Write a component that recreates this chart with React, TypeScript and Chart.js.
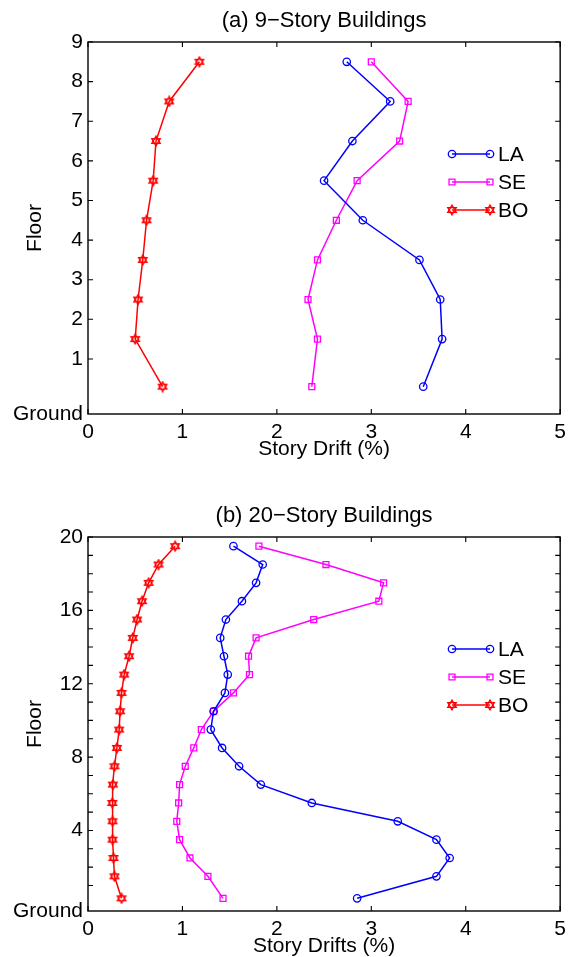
import React, { useEffect, useRef } from 'react';
import { Chart, registerables } from 'chart.js';
import { drawPoint } from 'chart.js/helpers';
Chart.register(...registerables);

const FONT_FAMILY = '"Liberation Sans", Arial, Helvetica, sans-serif';
const FONT_SIZE = 21;
const TITLE_SIZE = 22;

// ---------- data: (a) 9-story ----------
const floors9 = [0.3, 1.5, 2.5, 3.5, 4.5, 5.5, 6.5, 7.5, 8.5];
const la9 = [3.55, 3.75, 3.73, 3.51, 2.91, 2.5, 2.8, 3.2, 2.74];
const se9 = [2.37, 2.43, 2.33, 2.43, 2.63, 2.85, 3.3, 3.39, 3.0];
const bo9 = [0.79, 0.5, 0.53, 0.58, 0.62, 0.69, 0.72, 0.86, 1.18];
const yLabelTicks9 = [1, 2, 3, 4, 5, 6, 7, 8, 9];
const yMinorTicks9 = [1, 2, 3, 4, 5, 6, 7, 8, 9];

// ---------- data: (b) 20-story ----------
const floors20 = [0.3, 1.5, 2.5, 3.5, 4.5, 5.5, 6.5, 7.5, 8.5, 9.5, 10.5, 11.5, 12.5, 13.5, 14.5, 15.5, 16.5, 17.5, 18.5, 19.5];
const la20 = [2.85, 3.69, 3.83, 3.69, 3.28, 2.37, 1.83, 1.6, 1.42, 1.3, 1.33, 1.45, 1.48, 1.44, 1.4, 1.46, 1.63, 1.78, 1.85, 1.54];
const se20 = [1.43, 1.27, 1.08, 0.97, 0.94, 0.96, 0.97, 1.03, 1.12, 1.2, 1.33, 1.54, 1.71, 1.7, 1.78, 2.39, 3.08, 3.13, 2.52, 1.81];
const bo20 = [0.355, 0.28, 0.27, 0.26, 0.26, 0.257, 0.264, 0.28, 0.306, 0.33, 0.34, 0.355, 0.383, 0.435, 0.474, 0.52, 0.572, 0.642, 0.747, 0.923];
const yLabelTicks20 = [4, 8, 12, 16, 20];
const yMinorTicks20 = [1, 2, 3, 4, 5, 6, 7, 8, 9, 10, 11, 12, 13, 14, 15, 16, 17, 18, 19, 20];

const xTicks = [0, 1, 2, 3, 4, 5];
const groundValue = -0.39;
const groundLabel = 'Ground';
const seriesNames = ['LA', 'SE', 'BO'];
const seriesColors = ['#0000ff', '#ff00ff', '#ff0000'];

function makeHexagram(color: string): HTMLCanvasElement {
  const c = document.createElement('canvas');
  const s = 12;
  c.width = s;
  c.height = s;
  const ctx = c.getContext('2d')!;
  const r = 4.9;
  const cx = s / 2;
  const cy = s / 2;
  ctx.strokeStyle = color;
  ctx.fillStyle = color;
  ctx.lineWidth = 1.3;
  for (const off of [-Math.PI / 2, Math.PI / 2]) {
    ctx.beginPath();
    for (let i = 0; i < 3; i++) {
      const a = off + (i * 2 * Math.PI) / 3;
      const px = cx + r * Math.cos(a);
      const py = cy + r * Math.sin(a);
      if (i === 0) ctx.moveTo(px, py);
      else ctx.lineTo(px, py);
    }
    ctx.closePath();
    ctx.stroke();
  }
  return c;
}

type PanelSpec = {
  title: string;
  xTitle: string;
  floors: number[];
  la: number[];
  se: number[];
  bo: number[];
  yMax: number;
  yLabelTicks: number[];
  yMinorTicks: number[];
  canvasHeight: number;
  padTop: number;
  xAxisHeight: number;
};

const framePlugin = {
  id: 'matlabFrame',
  afterDraw(chart: any, _args: any, opts: any) {
    const { ctx, chartArea } = chart;
    const { left, right, top, bottom } = chartArea;
    const xs = chart.scales.x;
    const ys = chart.scales.y;
    const font = `${FONT_SIZE}px ${FONT_FAMILY}`;
    ctx.save();
    // box
    ctx.strokeStyle = '#000';
    ctx.lineWidth = 1.4;
    ctx.strokeRect(left, top, right - left, bottom - top);
    // inward ticks
    const tl = 5;
    ctx.lineWidth = 1.1;
    ctx.beginPath();
    for (const v of xTicks) {
      const px = xs.getPixelForValue(v);
      ctx.moveTo(px, bottom);
      ctx.lineTo(px, bottom - tl);
      ctx.moveTo(px, top);
      ctx.lineTo(px, top + tl);
    }
    for (const v of opts.minorTicks as number[]) {
      const py = ys.getPixelForValue(v);
      ctx.moveTo(left, py);
      ctx.lineTo(left + tl, py);
      ctx.moveTo(right, py);
      ctx.lineTo(right - tl, py);
    }
    ctx.stroke();

    // title
    ctx.fillStyle = '#000';
    ctx.font = `${TITLE_SIZE}px ${FONT_FAMILY}`;
    ctx.textAlign = 'center';
    ctx.textBaseline = 'alphabetic';
    const cx = (left + right) / 2;
    ctx.fillText(opts.title, cx, top - 15);
    // x title
    ctx.font = font;
    ctx.fillText(opts.xTitle, cx, bottom + 41);
    // y title
    ctx.save();
    ctx.translate(41, (top + bottom) / 2);
    ctx.rotate(-Math.PI / 2);
    ctx.fillText('Floor', 0, 0);
    ctx.restore();

    // legend
    const lx1 = 452;
    const lx2 = 490;
    const rows = [top + 112, top + 140, top + 168];
    chart.data.datasets.forEach((ds: any, i: number) => {
      const y = rows[i];
      ctx.strokeStyle = ds.borderColor;
      ctx.lineWidth = ds.borderWidth;
      ctx.beginPath();
      ctx.moveTo(lx1, y);
      ctx.lineTo(lx2, y);
      ctx.stroke();
      for (const x of [lx1, lx2]) {
        ctx.strokeStyle = ds.pointBorderColor;
        ctx.fillStyle = ds.pointBackgroundColor;
        ctx.lineWidth = ds.pointBorderWidth;
        drawPoint(ctx, { pointStyle: ds.pointStyle, radius: ds.pointRadius, borderWidth: ds.pointBorderWidth, rotation: 0 } as any, x, y);
      }
      ctx.fillStyle = '#000';
      ctx.font = font;
      ctx.textAlign = 'left';
      ctx.textBaseline = 'middle';
      ctx.fillText(ds.label, 498, y + 1);
    });
    ctx.restore();
  },
};

function Panel({ spec }: { spec: PanelSpec }) {
  const ref = useRef<HTMLCanvasElement | null>(null);
  useEffect(() => {
    if (!ref.current) return;
    const hex = makeHexagram(seriesColors[2]);
    const mk = (vals: number[]) => vals.map((v, i) => ({ x: v, y: spec.floors[i] }));
    const series = [spec.la, spec.se, spec.bo];
    const styles: any[] = ['circle', 'rect', hex];
    const radii = [3.7, 4.2, 5];
    const datasets = series.map((vals, i) => ({
      label: seriesNames[i],
      data: mk(vals),
      showLine: true,
      borderColor: seriesColors[i],
      backgroundColor: seriesColors[i],
      borderWidth: 1.5,
      pointStyle: styles[i],
      pointRadius: radii[i],
      pointBorderWidth: 1.3,
      pointBorderColor: seriesColors[i],
      pointBackgroundColor: 'rgba(0,0,0,0)',
      tension: 0,
    }));
    const tickFont = { family: FONT_FAMILY, size: FONT_SIZE };
    const chart = new Chart(ref.current, {
      type: 'scatter',
      data: { datasets },
      options: {
        animation: false,
        responsive: false,
        events: [],
        layout: { padding: { top: spec.padTop, right: 11, bottom: 0, left: 0 } },
        plugins: {
          legend: { display: false },
          tooltip: { enabled: false },
          title: { display: false },
          matlabFrame: { title: spec.title, xTitle: spec.xTitle, minorTicks: spec.yMinorTicks },
        } as any,
        scales: {
          x: {
            type: 'linear',
            min: 0,
            max: 5,
            grid: { display: false, drawTicks: false },
            border: { display: false },
            afterBuildTicks: (s: any) => {
              s.ticks = xTicks.map((v) => ({ value: v }));
            },
            afterFit: (s: any) => {
              s.height = spec.xAxisHeight;
            },
            ticks: { font: tickFont, color: '#000', padding: 6, autoSkip: false, maxRotation: 0 },
          },
          y: {
            type: 'linear',
            min: groundValue,
            max: spec.yMax,
            grid: { display: false, drawTicks: false },
            border: { display: false },
            afterBuildTicks: (s: any) => {
              s.ticks = [groundValue, ...spec.yLabelTicks].map((v) => ({ value: v }));
            },
            afterFit: (s: any) => {
              s.width = 88;
            },
            ticks: {
              font: tickFont,
              color: '#000',
              padding: 5,
              autoSkip: false,
              callback: (v: any) => (Number(v) < 0 ? groundLabel : String(v)),
            },
          },
        },
      },
      plugins: [framePlugin],
    });
    return () => chart.destroy();
  }, [spec]);
  return <canvas ref={ref} width={572} height={spec.canvasHeight} style={{ display: 'block' }} />;
}

const specA: PanelSpec = {
  title: '(a) 9\u2212Story Buildings',
  xTitle: 'Story Drift (%)',
  floors: floors9,
  la: la9,
  se: se9,
  bo: bo9,
  yMax: 9,
  yLabelTicks: yLabelTicks9,
  yMinorTicks: yMinorTicks9,
  canvasHeight: 470,
  padTop: 42,
  xAxisHeight: 56,
};

const specB: PanelSpec = {
  title: '(b) 20\u2212Story Buildings',
  xTitle: 'Story Drifts (%)',
  floors: floors20,
  la: la20,
  se: se20,
  bo: bo20,
  yMax: 20,
  yLabelTicks: yLabelTicks20,
  yMinorTicks: yMinorTicks20,
  canvasHeight: 467,
  padTop: 47,
  xAxisHeight: 46,
};

export default function App() {
  return (
    <div style={{ position: 'absolute', left: 0, top: 0, width: 572, height: 957, background: '#fff', overflow: 'hidden' }}>
      <div style={{ position: 'absolute', left: 0, top: 0 }}>
        <Panel spec={specA} />
      </div>
      <div style={{ position: 'absolute', left: 0, top: 490 }}>
        <Panel spec={specB} />
      </div>
    </div>
  );
}
